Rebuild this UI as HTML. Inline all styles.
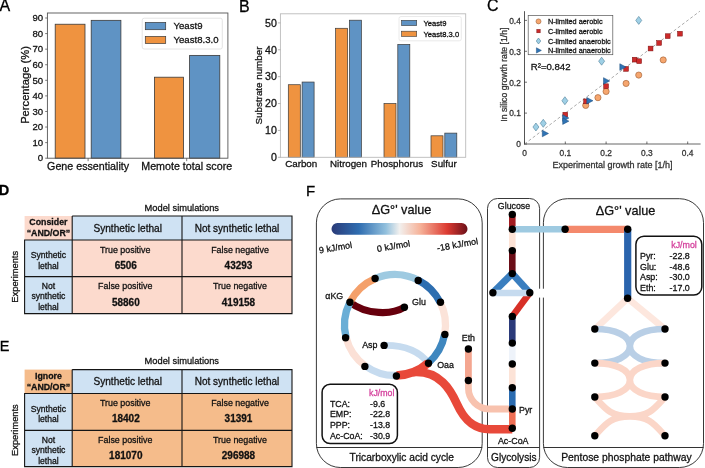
<!DOCTYPE html>
<html><head><meta charset="utf-8"><style>
html,body{margin:0;padding:0;background:#fff;width:705px;height:468px;overflow:hidden}
svg{display:block;font-family:"Liberation Sans", sans-serif;will-change:transform}
text{stroke:currentColor;stroke-width:0.28px}
</style></head><body>
<svg width="705" height="468" viewBox="0 0 705 468">
<rect width="705" height="468" fill="#fff"/>
<text x="-0.60" y="10.66" font-size="16" text-anchor="start" font-weight="normal" fill="#000" color="#000" >A</text>
<rect x="55.2" y="24.23" width="29.799999999999997" height="133.97" fill="#ef9340" stroke="#3a3a3a" stroke-width="0.8"/>
<rect x="91.2" y="20.34" width="29.700000000000003" height="137.86" fill="#5f93c4" stroke="#3a3a3a" stroke-width="0.8"/>
<rect x="154.4" y="77.20" width="29.19999999999999" height="81.00" fill="#ef9340" stroke="#3a3a3a" stroke-width="0.8"/>
<rect x="189.6" y="55.39" width="30.200000000000017" height="102.81" fill="#5f93c4" stroke="#3a3a3a" stroke-width="0.8"/>
<rect x="47.4" y="13.0" width="180.5" height="145.2" fill="none" stroke="#555" stroke-width="0.9"/>
<line x1="45.199999999999996" y1="158.20" x2="47.4" y2="158.20" stroke="#555" stroke-width="0.8"/>
<text x="43.20" y="161.46" font-size="9.6" text-anchor="end" font-weight="normal" fill="#111" color="#111" >0</text>
<line x1="45.199999999999996" y1="142.62" x2="47.4" y2="142.62" stroke="#555" stroke-width="0.8"/>
<text x="43.20" y="145.88" font-size="9.6" text-anchor="end" font-weight="normal" fill="#111" color="#111" >10</text>
<line x1="45.199999999999996" y1="127.04" x2="47.4" y2="127.04" stroke="#555" stroke-width="0.8"/>
<text x="43.20" y="130.30" font-size="9.6" text-anchor="end" font-weight="normal" fill="#111" color="#111" >20</text>
<line x1="45.199999999999996" y1="111.47" x2="47.4" y2="111.47" stroke="#555" stroke-width="0.8"/>
<text x="43.20" y="114.72" font-size="9.6" text-anchor="end" font-weight="normal" fill="#111" color="#111" >30</text>
<line x1="45.199999999999996" y1="95.89" x2="47.4" y2="95.89" stroke="#555" stroke-width="0.8"/>
<text x="43.20" y="99.14" font-size="9.6" text-anchor="end" font-weight="normal" fill="#111" color="#111" >40</text>
<line x1="45.199999999999996" y1="80.31" x2="47.4" y2="80.31" stroke="#555" stroke-width="0.8"/>
<text x="43.20" y="83.57" font-size="9.6" text-anchor="end" font-weight="normal" fill="#111" color="#111" >50</text>
<line x1="45.199999999999996" y1="64.73" x2="47.4" y2="64.73" stroke="#555" stroke-width="0.8"/>
<text x="43.20" y="67.99" font-size="9.6" text-anchor="end" font-weight="normal" fill="#111" color="#111" >60</text>
<line x1="45.199999999999996" y1="49.16" x2="47.4" y2="49.16" stroke="#555" stroke-width="0.8"/>
<text x="43.20" y="52.41" font-size="9.6" text-anchor="end" font-weight="normal" fill="#111" color="#111" >70</text>
<line x1="45.199999999999996" y1="33.58" x2="47.4" y2="33.58" stroke="#555" stroke-width="0.8"/>
<text x="43.20" y="36.83" font-size="9.6" text-anchor="end" font-weight="normal" fill="#111" color="#111" >80</text>
<line x1="45.199999999999996" y1="18.00" x2="47.4" y2="18.00" stroke="#555" stroke-width="0.8"/>
<text x="43.20" y="21.26" font-size="9.6" text-anchor="end" font-weight="normal" fill="#111" color="#111" >90</text>
<line x1="88.1" y1="158.2" x2="88.1" y2="161.2" stroke="#555" stroke-width="0.8"/>
<line x1="186.7" y1="158.2" x2="186.7" y2="161.2" stroke="#555" stroke-width="0.8"/>
<text x="88.10" y="170.05" font-size="10.7" text-anchor="middle" font-weight="normal" fill="#111" color="#111" >Gene essentiality</text>
<text x="186.70" y="170.05" font-size="10.7" text-anchor="middle" font-weight="normal" fill="#111" color="#111" >Memote total score</text>
<text x="0" y="0" font-size="11.2" text-anchor="middle" fill="#111" color="#111" transform="translate(28.8,85) rotate(-90)">Percentage (%)</text>
<rect x="142.2" y="18.2" width="80.1" height="30.8" rx="2" fill="#fff" stroke="#ddd" stroke-width="0.8"/>
<rect x="145.3" y="22.4" width="20.4" height="7.3" fill="#5f93c4" stroke="#3a3a3a" stroke-width="0.7"/>
<rect x="145.3" y="36.4" width="20.4" height="7.1" fill="#ef9340" stroke="#3a3a3a" stroke-width="0.7"/>
<text x="173.50" y="29.46" font-size="9.6" text-anchor="start" font-weight="normal" fill="#111" color="#111" >Yeast9</text>
<text x="173.50" y="43.46" font-size="9.6" text-anchor="start" font-weight="normal" fill="#111" color="#111" >Yeast8.3.0</text>
<text x="239.00" y="11.76" font-size="16" text-anchor="start" font-weight="normal" fill="#000" color="#000" >B</text>
<rect x="288.3" y="84.72" width="12" height="72.58" fill="#ef9340" stroke="#3a3a3a" stroke-width="0.7"/>
<rect x="302.1" y="82.04" width="12" height="75.26" fill="#5f93c4" stroke="#3a3a3a" stroke-width="0.7"/>
<rect x="335.6" y="28.28" width="12" height="129.02" fill="#ef9340" stroke="#3a3a3a" stroke-width="0.7"/>
<rect x="349.40000000000003" y="20.21" width="12" height="137.09" fill="#5f93c4" stroke="#3a3a3a" stroke-width="0.7"/>
<rect x="384.0" y="103.54" width="12" height="53.76" fill="#ef9340" stroke="#3a3a3a" stroke-width="0.7"/>
<rect x="397.8" y="44.40" width="12" height="112.90" fill="#5f93c4" stroke="#3a3a3a" stroke-width="0.7"/>
<rect x="431.0" y="135.80" width="12" height="21.50" fill="#ef9340" stroke="#3a3a3a" stroke-width="0.7"/>
<rect x="444.8" y="133.11" width="12" height="24.19" fill="#5f93c4" stroke="#3a3a3a" stroke-width="0.7"/>
<rect x="280.4" y="13.8" width="185.3" height="143.5" fill="none" stroke="#bbb" stroke-width="0.9"/>
<line x1="277.9" y1="157.30" x2="280.4" y2="157.30" stroke="#999" stroke-width="0.7"/>
<text x="276.80" y="161.12" font-size="10.6" text-anchor="end" font-weight="normal" fill="#111" color="#111" >0</text>
<line x1="277.9" y1="130.42" x2="280.4" y2="130.42" stroke="#999" stroke-width="0.7"/>
<text x="276.80" y="134.24" font-size="10.6" text-anchor="end" font-weight="normal" fill="#111" color="#111" >10</text>
<line x1="277.9" y1="103.54" x2="280.4" y2="103.54" stroke="#999" stroke-width="0.7"/>
<text x="276.80" y="107.36" font-size="10.6" text-anchor="end" font-weight="normal" fill="#111" color="#111" >20</text>
<line x1="277.9" y1="76.66" x2="280.4" y2="76.66" stroke="#999" stroke-width="0.7"/>
<text x="276.80" y="80.48" font-size="10.6" text-anchor="end" font-weight="normal" fill="#111" color="#111" >30</text>
<line x1="277.9" y1="49.78" x2="280.4" y2="49.78" stroke="#999" stroke-width="0.7"/>
<text x="276.80" y="53.60" font-size="10.6" text-anchor="end" font-weight="normal" fill="#111" color="#111" >40</text>
<line x1="277.9" y1="22.90" x2="280.4" y2="22.90" stroke="#999" stroke-width="0.7"/>
<text x="276.80" y="26.72" font-size="10.6" text-anchor="end" font-weight="normal" fill="#111" color="#111" >50</text>
<text x="301.20" y="167.33" font-size="9.8" text-anchor="middle" font-weight="normal" fill="#111" color="#111" >Carbon</text>
<text x="348.50" y="167.33" font-size="9.8" text-anchor="middle" font-weight="normal" fill="#111" color="#111" >Nitrogen</text>
<text x="396.90" y="167.33" font-size="9.8" text-anchor="middle" font-weight="normal" fill="#111" color="#111" >Phosphorus</text>
<text x="443.90" y="167.33" font-size="9.8" text-anchor="middle" font-weight="normal" fill="#111" color="#111" >Sulfur</text>
<text x="0" y="0" font-size="9.8" text-anchor="middle" fill="#111" color="#111" transform="translate(261.8,85.5) rotate(-90)">Substrate number</text>
<rect x="399.0" y="16.5" width="62.3" height="24.3" rx="2" fill="#fff" stroke="#e4e4e4" stroke-width="0.8"/>
<rect x="401.6" y="20.3" width="15.1" height="5.3" fill="#5f93c4" stroke="#3a3a3a" stroke-width="0.6"/>
<rect x="401.6" y="31.2" width="15.1" height="5.2" fill="#ef9340" stroke="#3a3a3a" stroke-width="0.6"/>
<text x="423.50" y="25.74" font-size="7.6" text-anchor="start" font-weight="normal" fill="#111" color="#111" >Yeast9</text>
<text x="423.50" y="36.64" font-size="7.6" text-anchor="start" font-weight="normal" fill="#111" color="#111" >Yeast8.3.0</text>
<text x="487.00" y="11.06" font-size="16" text-anchor="start" font-weight="normal" fill="#000" color="#000" >C</text>
<line x1="524.0" y1="144.0" x2="700.6" y2="144.0" stroke="#666" stroke-width="1"/>
<line x1="524.5" y1="144.5" x2="524.5" y2="11.2" stroke="#555" stroke-width="1"/>
<line x1="524.50" y1="144.0" x2="524.50" y2="141.5" stroke="#333" stroke-width="0.7"/>
<line x1="524.5" y1="144.00" x2="527.0" y2="144.00" stroke="#333" stroke-width="0.7"/>
<text x="524.50" y="155.62" font-size="8.4" text-anchor="middle" font-weight="normal" fill="#333" color="#333" >0</text>
<text x="520.80" y="147.32" font-size="8.4" text-anchor="end" font-weight="normal" fill="#333" color="#333" >0</text>
<line x1="565.30" y1="144.0" x2="565.30" y2="141.5" stroke="#333" stroke-width="0.7"/>
<line x1="524.5" y1="113.10" x2="527.0" y2="113.10" stroke="#333" stroke-width="0.7"/>
<text x="565.30" y="155.62" font-size="8.4" text-anchor="middle" font-weight="normal" fill="#333" color="#333" >0.1</text>
<text x="520.80" y="116.42" font-size="8.4" text-anchor="end" font-weight="normal" fill="#333" color="#333" >0.1</text>
<line x1="606.10" y1="144.0" x2="606.10" y2="141.5" stroke="#333" stroke-width="0.7"/>
<line x1="524.5" y1="82.20" x2="527.0" y2="82.20" stroke="#333" stroke-width="0.7"/>
<text x="606.10" y="155.62" font-size="8.4" text-anchor="middle" font-weight="normal" fill="#333" color="#333" >0.2</text>
<text x="520.80" y="85.52" font-size="8.4" text-anchor="end" font-weight="normal" fill="#333" color="#333" >0.2</text>
<line x1="646.90" y1="144.0" x2="646.90" y2="141.5" stroke="#333" stroke-width="0.7"/>
<line x1="524.5" y1="51.30" x2="527.0" y2="51.30" stroke="#333" stroke-width="0.7"/>
<text x="646.90" y="155.62" font-size="8.4" text-anchor="middle" font-weight="normal" fill="#333" color="#333" >0.3</text>
<text x="520.80" y="54.62" font-size="8.4" text-anchor="end" font-weight="normal" fill="#333" color="#333" >0.3</text>
<line x1="687.70" y1="144.0" x2="687.70" y2="141.5" stroke="#333" stroke-width="0.7"/>
<line x1="524.5" y1="20.40" x2="527.0" y2="20.40" stroke="#333" stroke-width="0.7"/>
<text x="687.70" y="155.62" font-size="8.4" text-anchor="middle" font-weight="normal" fill="#333" color="#333" >0.4</text>
<text x="520.80" y="23.72" font-size="8.4" text-anchor="end" font-weight="normal" fill="#333" color="#333" >0.4</text>
<line x1="524.5" y1="144.0" x2="699.94" y2="11.13" stroke="#888" stroke-width="0.7" stroke-dasharray="3,2.2"/>
<text x="612.50" y="168.14" font-size="9.0" text-anchor="middle" font-weight="normal" fill="#333" color="#333" >Experimental growth rate [1/h]</text>
<text x="0" y="0" font-size="8.7" text-anchor="middle" fill="#333" color="#333" transform="translate(506.8,74.6) rotate(-90)">In silico growth rate [1/h]</text>
<text x="530.80" y="70.16" font-size="9.6" text-anchor="start" font-weight="normal" fill="#111" color="#111" >R²=0.842</text>
<circle cx="585.70" cy="105.38" r="3.10" fill="#f6a66e" stroke="#9a5a30" stroke-width="0.6"/>
<circle cx="597.94" cy="97.65" r="3.10" fill="#f6a66e" stroke="#9a5a30" stroke-width="0.6"/>
<circle cx="606.10" cy="91.47" r="3.10" fill="#f6a66e" stroke="#9a5a30" stroke-width="0.6"/>
<circle cx="626.09" cy="83.44" r="3.10" fill="#f6a66e" stroke="#9a5a30" stroke-width="0.6"/>
<circle cx="638.74" cy="75.09" r="3.10" fill="#f6a66e" stroke="#9a5a30" stroke-width="0.6"/>
<circle cx="663.22" cy="59.95" r="3.10" fill="#f6a66e" stroke="#9a5a30" stroke-width="0.6"/>
<rect x="562.90" y="112.24" width="4.80" height="4.80" fill="#cc2a2a" stroke="#7a1010" stroke-width="0.5"/>
<rect x="583.71" y="98.96" width="4.80" height="4.80" fill="#cc2a2a" stroke="#7a1010" stroke-width="0.5"/>
<rect x="603.70" y="83.82" width="4.80" height="4.80" fill="#cc2a2a" stroke="#7a1010" stroke-width="0.5"/>
<rect x="623.69" y="66.51" width="4.80" height="4.80" fill="#cc2a2a" stroke="#7a1010" stroke-width="0.5"/>
<rect x="632.26" y="57.24" width="4.80" height="4.80" fill="#cc2a2a" stroke="#7a1010" stroke-width="0.5"/>
<rect x="636.75" y="58.79" width="4.80" height="4.80" fill="#cc2a2a" stroke="#7a1010" stroke-width="0.5"/>
<rect x="648.17" y="46.12" width="4.80" height="4.80" fill="#cc2a2a" stroke="#7a1010" stroke-width="0.5"/>
<rect x="656.74" y="40.56" width="4.80" height="4.80" fill="#cc2a2a" stroke="#7a1010" stroke-width="0.5"/>
<rect x="665.31" y="33.76" width="4.80" height="4.80" fill="#cc2a2a" stroke="#7a1010" stroke-width="0.5"/>
<rect x="677.55" y="31.29" width="4.80" height="4.80" fill="#cc2a2a" stroke="#7a1010" stroke-width="0.5"/>
<path d="M535.92,123.00 L538.92,127.00 L535.92,131.00 L532.92,127.00 Z" fill="#9fd0e6" stroke="#4f7f99" stroke-width="0.6"/>
<path d="M543.27,119.30 L546.27,123.30 L543.27,127.30 L540.27,123.30 Z" fill="#9fd0e6" stroke="#4f7f99" stroke-width="0.6"/>
<path d="M564.89,96.74 L567.89,100.74 L564.89,104.74 L561.89,100.74 Z" fill="#9fd0e6" stroke="#4f7f99" stroke-width="0.6"/>
<path d="M601.61,57.19 L604.61,61.19 L601.61,65.19 L598.61,61.19 Z" fill="#9fd0e6" stroke="#4f7f99" stroke-width="0.6"/>
<path d="M638.74,16.40 L641.74,20.40 L638.74,24.40 L635.74,20.40 Z" fill="#9fd0e6" stroke="#4f7f99" stroke-width="0.6"/>
<path d="M542.30,130.19 L548.50,133.49 L542.30,136.79 Z" fill="#2f74b5" stroke="#1a4a7a" stroke-width="0.5"/>
<path d="M562.70,114.74 L568.90,118.04 L562.70,121.34 Z" fill="#2f74b5" stroke="#1a4a7a" stroke-width="0.5"/>
<path d="M562.70,117.83 L568.90,121.13 L562.70,124.43 Z" fill="#2f74b5" stroke="#1a4a7a" stroke-width="0.5"/>
<path d="M586.77,97.44 L592.97,100.74 L586.77,104.04 Z" fill="#2f74b5" stroke="#1a4a7a" stroke-width="0.5"/>
<path d="M603.50,77.66 L609.70,80.96 L603.50,84.26 Z" fill="#2f74b5" stroke="#1a4a7a" stroke-width="0.5"/>
<path d="M619.82,63.76 L626.02,67.06 L619.82,70.36 Z" fill="#2f74b5" stroke="#1a4a7a" stroke-width="0.5"/>
<rect x="528.2" y="15.4" width="84.6" height="39.3" fill="#fff" stroke="#555" stroke-width="0.7"/>
<circle cx="538.50" cy="21.40" r="2.48" fill="#f6a66e" stroke="#9a5a30" stroke-width="0.6"/>
<rect x="536.82" y="29.42" width="3.36" height="3.36" fill="#cc2a2a" stroke="#7a1010" stroke-width="0.5"/>
<path d="M538.50,38.00 L540.75,41.00 L538.50,44.00 L536.25,41.00 Z" fill="#9fd0e6" stroke="#4f7f99" stroke-width="0.6"/>
<path d="M536.42,47.76 L541.38,50.40 L536.42,53.04 Z" fill="#2f74b5" stroke="#1a4a7a" stroke-width="0.5"/>
<text x="547.90" y="24.03" font-size="7.3" text-anchor="start" font-weight="normal" fill="#111" color="#111" >N-limited aerobic</text>
<text x="547.90" y="33.73" font-size="7.3" text-anchor="start" font-weight="normal" fill="#111" color="#111" >C-limited aerobic</text>
<text x="547.90" y="43.63" font-size="7.3" text-anchor="start" font-weight="normal" fill="#111" color="#111" >C-limited anaerobic</text>
<text x="547.90" y="53.03" font-size="7.3" text-anchor="start" font-weight="normal" fill="#111" color="#111" >N-limited anaerobic</text>
<text x="-1.20" y="195.22" font-size="14.5" text-anchor="start" font-weight="bold" fill="#000" color="#000" >D</text>
<text x="181.80" y="210.85" font-size="9.3" text-anchor="middle" font-weight="normal" fill="#111" color="#111" >Model simulations</text>
<rect x="24.6" y="216.0" width="47.6" height="24.0" fill="#fcdacd"/>
<rect x="72.2" y="216.0" width="219.8" height="24.0" fill="#cfe2f3"/>
<rect x="24.6" y="240.0" width="47.6" height="73.60000000000002" fill="#cfe2f3"/>
<rect x="72.2" y="240.0" width="219.8" height="73.60000000000002" fill="#fcdacd"/>
<path d="M72.2,216.0 H292.0 V313.6 H24.6 V240.0 H292.0 M24.6,276.6 H292.0 M72.2,216.0 V313.6 M182.0,216.0 V313.6" fill="none" stroke="#151515" stroke-width="1.1"/>
<text x="48.40" y="225.47" font-size="8.8" text-anchor="middle" font-weight="bold" fill="#111" color="#111" >Consider</text>
<text x="48.40" y="235.97" font-size="8.8" text-anchor="middle" font-weight="bold" fill="#111" color="#111" >“AND/OR”</text>
<text x="127.70" y="231.64" font-size="10.1" text-anchor="middle" font-weight="normal" fill="#111" color="#111" >Synthetic lethal</text>
<text x="237.00" y="231.60" font-size="10.0" text-anchor="middle" font-weight="normal" fill="#111" color="#111" >Not synthetic lethal</text>
<text x="48.40" y="258.40" font-size="8.6" text-anchor="middle" font-weight="normal" fill="#111" color="#111" >Synthetic</text>
<text x="48.40" y="268.50" font-size="8.6" text-anchor="middle" font-weight="normal" fill="#111" color="#111" >lethal</text>
<text x="48.40" y="289.20" font-size="8.6" text-anchor="middle" font-weight="normal" fill="#111" color="#111" >Not</text>
<text x="48.40" y="299.40" font-size="8.6" text-anchor="middle" font-weight="normal" fill="#111" color="#111" >synthetic</text>
<text x="48.40" y="309.70" font-size="8.6" text-anchor="middle" font-weight="normal" fill="#111" color="#111" >lethal</text>
<text x="125.20" y="252.50" font-size="8.9" text-anchor="middle" font-weight="normal" fill="#111" color="#111" >True positive</text>
<text x="125.80" y="269.40" font-size="10.0" text-anchor="middle" font-weight="bold" fill="#111" color="#111" >6506</text>
<text x="240.00" y="252.50" font-size="8.9" text-anchor="middle" font-weight="normal" fill="#111" color="#111" >False negative</text>
<text x="238.50" y="269.40" font-size="10.0" text-anchor="middle" font-weight="bold" fill="#111" color="#111" >43293</text>
<text x="125.20" y="289.10" font-size="8.9" text-anchor="middle" font-weight="normal" fill="#111" color="#111" >False positive</text>
<text x="125.80" y="306.00" font-size="10.0" text-anchor="middle" font-weight="bold" fill="#111" color="#111" >58860</text>
<text x="240.00" y="289.10" font-size="8.9" text-anchor="middle" font-weight="normal" fill="#111" color="#111" >True negative</text>
<text x="238.50" y="306.00" font-size="10.0" text-anchor="middle" font-weight="bold" fill="#111" color="#111" >419158</text>
<text x="0" y="0" font-size="9.3" text-anchor="middle" fill="#111" color="#111" transform="translate(18.2,276.8) rotate(-90)">Experiments</text>
<text x="-0.30" y="350.72" font-size="14.5" text-anchor="start" font-weight="normal" fill="#000" color="#000" >E</text>
<text x="181.80" y="364.45" font-size="9.3" text-anchor="middle" font-weight="normal" fill="#111" color="#111" >Model simulations</text>
<rect x="24.6" y="369.6" width="47.6" height="23.899999999999977" fill="#f5bc8b"/>
<rect x="72.2" y="369.6" width="219.8" height="23.899999999999977" fill="#cfe2f3"/>
<rect x="24.6" y="393.5" width="47.6" height="73.10000000000002" fill="#cfe2f3"/>
<rect x="72.2" y="393.5" width="219.8" height="73.10000000000002" fill="#f5bc8b"/>
<path d="M72.2,369.6 H292.0 V466.6 H24.6 V393.5 H292.0 M24.6,430.4 H292.0 M72.2,369.6 V466.6 M182.0,369.6 V466.6" fill="none" stroke="#151515" stroke-width="1.1"/>
<text x="48.40" y="379.07" font-size="8.8" text-anchor="middle" font-weight="bold" fill="#111" color="#111" >Ignore</text>
<text x="48.40" y="389.57" font-size="8.8" text-anchor="middle" font-weight="bold" fill="#111" color="#111" >“AND/OR”</text>
<text x="127.70" y="385.19" font-size="10.1" text-anchor="middle" font-weight="normal" fill="#111" color="#111" >Synthetic lethal</text>
<text x="237.00" y="385.15" font-size="10.0" text-anchor="middle" font-weight="normal" fill="#111" color="#111" >Not synthetic lethal</text>
<text x="48.40" y="411.90" font-size="8.6" text-anchor="middle" font-weight="normal" fill="#111" color="#111" >Synthetic</text>
<text x="48.40" y="422.00" font-size="8.6" text-anchor="middle" font-weight="normal" fill="#111" color="#111" >lethal</text>
<text x="48.40" y="443.00" font-size="8.6" text-anchor="middle" font-weight="normal" fill="#111" color="#111" >Not</text>
<text x="48.40" y="453.20" font-size="8.6" text-anchor="middle" font-weight="normal" fill="#111" color="#111" >synthetic</text>
<text x="48.40" y="463.50" font-size="8.6" text-anchor="middle" font-weight="normal" fill="#111" color="#111" >lethal</text>
<text x="125.20" y="405.70" font-size="8.9" text-anchor="middle" font-weight="normal" fill="#111" color="#111" >True positive</text>
<text x="125.80" y="421.90" font-size="10.0" text-anchor="middle" font-weight="bold" fill="#111" color="#111" >18402</text>
<text x="240.00" y="405.70" font-size="8.9" text-anchor="middle" font-weight="normal" fill="#111" color="#111" >False negative</text>
<text x="238.50" y="421.90" font-size="10.0" text-anchor="middle" font-weight="bold" fill="#111" color="#111" >31391</text>
<text x="125.20" y="442.60" font-size="8.9" text-anchor="middle" font-weight="normal" fill="#111" color="#111" >False positive</text>
<text x="125.80" y="458.80" font-size="10.0" text-anchor="middle" font-weight="bold" fill="#111" color="#111" >181070</text>
<text x="240.00" y="442.60" font-size="8.9" text-anchor="middle" font-weight="normal" fill="#111" color="#111" >True negative</text>
<text x="238.50" y="458.80" font-size="10.0" text-anchor="middle" font-weight="bold" fill="#111" color="#111" >296988</text>
<text x="0" y="0" font-size="9.3" text-anchor="middle" fill="#111" color="#111" transform="translate(18.2,430.1) rotate(-90)">Experiments</text>
<text x="306.00" y="195.70" font-size="15.0" text-anchor="start" font-weight="normal" fill="#000" color="#000" >F</text>
<path d="M340.4,198.9 H458.2 A24,24 0 0 1 482.2,222.9 V443.5 A24,24 0 0 1 458.2,467.5 H340.4 A24,24 0 0 1 316.4,443.5 V222.9 A24,24 0 0 1 340.4,198.9 Z" fill="none" stroke="#222" stroke-width="0.9"/>
<line x1="316.4" y1="447.5" x2="482.2" y2="447.5" stroke="#333" stroke-width="1"/>
<path d="M497.5,198.5 H529.6 A10,10 0 0 1 539.6,208.5 V457.5 A10,10 0 0 1 529.6,467.5 H497.5 A10,10 0 0 1 487.5,457.5 V208.5 A10,10 0 0 1 497.5,198.5 Z" fill="none" stroke="#222" stroke-width="0.9"/>
<line x1="487.5" y1="447.5" x2="539.6" y2="447.5" stroke="#333" stroke-width="1"/>
<path d="M567.4,198.7 H679.5 A24,24 0 0 1 703.5,222.7 V443.5 A24,24 0 0 1 679.5,467.5 H567.4 A24,24 0 0 1 543.4,443.5 V222.7 A24,24 0 0 1 567.4,198.7 Z" fill="none" stroke="#222" stroke-width="0.9"/>
<line x1="543.4" y1="447.5" x2="703.5" y2="447.5" stroke="#333" stroke-width="1"/>
<rect x="537" y="288.7" width="9" height="8.9" fill="#fff"/>
<text x="401.60" y="214.37" font-size="12.7" text-anchor="middle" font-weight="normal" fill="#111" color="#111" >ΔG°' value</text>
<text x="625.60" y="214.57" font-size="12.7" text-anchor="middle" font-weight="normal" fill="#111" color="#111" >ΔG°' value</text>
<text x="401.80" y="460.97" font-size="10.2" text-anchor="middle" font-weight="normal" fill="#111" color="#111" >Tricarboxylic acid cycle</text>
<text x="513.80" y="461.24" font-size="10.1" text-anchor="middle" font-weight="normal" fill="#111" color="#111" >Glycolysis</text>
<text x="626.40" y="461.13" font-size="10.35" text-anchor="middle" font-weight="normal" fill="#111" color="#111" >Pentose phosphate pathway</text>
<text x="514.00" y="208.67" font-size="8.8" text-anchor="middle" font-weight="normal" fill="#111" color="#111" >Glucose</text>
<defs><linearGradient id="cb" x1="0" x2="1" y1="0" y2="0"><stop offset="0" stop-color="#2a3a78"/><stop offset="0.2" stop-color="#2f6db0"/><stop offset="0.4" stop-color="#92c0dd"/><stop offset="0.5" stop-color="#f2f0ee"/><stop offset="0.65" stop-color="#f6b39a"/><stop offset="0.85" stop-color="#dc3b32"/><stop offset="1" stop-color="#6b1019"/></linearGradient></defs>
<rect x="331.5" y="223.0" width="136.0" height="11.8" rx="5.9" fill="url(#cb)"/>
<text x="0" y="0" font-size="9.0" text-anchor="middle" fill="#111" color="#111" transform="translate(336,250.7) rotate(-10)">9 kJ/mol</text>
<text x="0" y="0" font-size="9.0" text-anchor="middle" fill="#111" color="#111" transform="translate(394,249.2) rotate(-10)">0 kJ/mol</text>
<text x="0" y="0" font-size="9.0" text-anchor="middle" fill="#111" color="#111" transform="translate(458,247.7) rotate(-10)">-18 kJ/mol</text>
<path d="M384.1,345.4 C405,345 420,352 428.5,363.3" fill="none" stroke="#c6dbef" stroke-width="6.8" stroke-linecap="butt"/>
<path d="M350,302.3 C366,315 392,315 404.4,307.3" fill="none" stroke="#67000d" stroke-width="7.2" stroke-linecap="butt"/>
<path d="M349.91,302.26 A50.5,50.5 0 0 1 375.13,278.57" fill="none" stroke="#f4a06a" stroke-width="7.3" stroke-linecap="butt"/>
<path d="M375.13,278.57 A50.5,50.5 0 0 1 418.35,280.22" fill="none" stroke="#9ecae1" stroke-width="7.3" stroke-linecap="butt"/>
<path d="M418.35,280.22 A50.5,50.5 0 0 1 440.19,302.46" fill="none" stroke="#2d6eb0" stroke-width="7.3" stroke-linecap="butt"/>
<path d="M440.19,302.46 A50.5,50.5 0 0 1 444.63,334.35" fill="none" stroke="#fbe3d9" stroke-width="7.3" stroke-linecap="butt"/>
<path d="M444.63,334.35 A50.5,50.5 0 0 1 428.25,363.01" fill="none" stroke="#3f87bf" stroke-width="7.3" stroke-linecap="butt"/>
<path d="M428.25,363.01 A50.5,50.5 0 0 1 396.39,375.48" fill="none" stroke="#e8493a" stroke-width="8.4" stroke-linecap="butt"/>
<path d="M396.39,375.48 A50.5,50.5 0 0 1 365.30,365.85" fill="none" stroke="#c6dbef" stroke-width="7.3" stroke-linecap="butt"/>
<path d="M365.30,365.85 A50.5,50.5 0 0 1 346.09,337.57" fill="none" stroke="#fbe0d6" stroke-width="7.3" stroke-linecap="butt"/>
<path d="M346.09,337.57 A50.5,50.5 0 0 1 349.91,302.26" fill="none" stroke="#6aaed6" stroke-width="7.3" stroke-linecap="butt"/>
<path d="M413,372.2 C440,370.2 451,390.7 457,404 C463,417.3 472,429.3 490,429.3 H512.3" fill="none" stroke="#e8493a" stroke-width="8.4" stroke-linecap="butt"/>
<path d="M468.4,380.5 V388 C468.4,399.6 477.8,409 489.4,409 H512.3" fill="none" stroke="#f8c2ae" stroke-width="6.8" stroke-linecap="butt"/>
<path d="M468.4,349 V381" fill="none" stroke="#f4a690" stroke-width="6.8" stroke-linecap="butt"/>
<path d="M512.3,214.4 V229.2" fill="none" stroke="#a11d22" stroke-width="6.6" stroke-linecap="butt"/>
<path d="M512.3,229.2 V250.6" fill="none" stroke="#fde3d6" stroke-width="6.6" stroke-linecap="butt"/>
<path d="M512.3,250.6 V273.6" fill="none" stroke="#6b0d17" stroke-width="6.6" stroke-linecap="butt"/>
<path d="M529.8,292.8 L512.3,316.4" fill="none" stroke="#d73027" stroke-width="6.6" stroke-linecap="butt"/>
<path d="M512.3,273.6 L492.9,292.8" fill="none" stroke="#3a7ebf" stroke-width="7.0" stroke-linecap="butt"/>
<path d="M512.3,273.6 L529.8,292.8" fill="none" stroke="#3a7ebf" stroke-width="7.0" stroke-linecap="butt"/>
<path d="M492.9,293.0 H529.8" fill="none" stroke="#c6dbef" stroke-width="6.6" stroke-linecap="butt"/>
<path d="M512.3,316.4 V343.1" fill="none" stroke="#2b3a7a" stroke-width="6.6" stroke-linecap="butt"/>
<path d="M512.3,343.1 V364.0" fill="none" stroke="#eef3fa" stroke-width="6.6" stroke-linecap="butt"/>
<path d="M512.3,364.0 V387.7" fill="none" stroke="#fce3d7" stroke-width="6.6" stroke-linecap="butt"/>
<path d="M512.3,387.7 V409.0" fill="none" stroke="#2a6bb0" stroke-width="6.6" stroke-linecap="butt"/>
<path d="M512.3,409.0 V428.2" fill="none" stroke="#ef6f55" stroke-width="6.6" stroke-linecap="butt"/>
<path d="M512.3,229.2 H565.1" fill="none" stroke="#9ecae1" stroke-width="6.6" stroke-linecap="butt"/>
<path d="M565.1,229.3 H627.7" fill="none" stroke="#f4896c" stroke-width="7.2" stroke-linecap="butt"/>
<path d="M627.7,229.3 V298.3" fill="none" stroke="#2a64ad" stroke-width="7.2" stroke-linecap="butt"/>
<path d="M627.6,298.3 L594.9,329.1 M627.6,298.3 L665.0,329.1" fill="none" stroke="#fde7de" stroke-width="6.6" stroke-linecap="butt"/>
<path d="M594.8,329.0 C615.86,329.0 629.9,335.82 629.9,346.05 C629.9,356.28 643.94,363.1 665.0,363.1 M665.0,329.0 C643.94,329.0 629.9,335.82 629.9,346.05 C629.9,356.28 615.86,363.1 594.8,363.1" fill="none" stroke="#b9cfe6" stroke-width="6.6" stroke-linecap="butt"/>
<path d="M594.8,363.1 C615.86,363.1 629.9,369.88 629.9,380.05 C629.9,390.22 643.94,397.0 665.0,397.0 M665.0,363.1 C643.94,363.1 629.9,369.88 629.9,380.05 C629.9,390.22 615.86,397.0 594.8,397.0" fill="none" stroke="#fbd6c8" stroke-width="6.6" stroke-linecap="butt"/>
<path d="M594.8,397.0 C605.33,408.64 610.59,416.4 629.9,416.4 C649.21,416.4 654.47,424.16 665.0,435.8 M665.0,397.0 C654.47,408.64 649.21,416.4 629.9,416.4 C610.59,416.4 605.33,424.16 594.8,435.8" fill="none" stroke="#fbd6c8" stroke-width="6.6" stroke-linecap="butt"/>
<circle cx="350.00" cy="302.30" r="3.7" fill="#000"/>
<circle cx="375.10" cy="278.50" r="3.7" fill="#000"/>
<circle cx="418.20" cy="280.50" r="3.7" fill="#000"/>
<circle cx="440.50" cy="302.30" r="3.7" fill="#000"/>
<circle cx="444.90" cy="334.40" r="3.7" fill="#000"/>
<circle cx="428.50" cy="363.30" r="3.7" fill="#000"/>
<circle cx="396.40" cy="376.00" r="3.7" fill="#000"/>
<circle cx="364.90" cy="366.40" r="3.7" fill="#000"/>
<circle cx="345.60" cy="337.70" r="3.7" fill="#000"/>
<circle cx="404.40" cy="307.30" r="3.7" fill="#000"/>
<circle cx="384.10" cy="345.40" r="3.7" fill="#000"/>
<circle cx="468.40" cy="349.00" r="3.7" fill="#000"/>
<circle cx="468.40" cy="380.50" r="3.7" fill="#000"/>
<circle cx="512.30" cy="214.40" r="3.7" fill="#000"/>
<circle cx="512.30" cy="229.20" r="3.7" fill="#000"/>
<circle cx="512.30" cy="250.60" r="3.7" fill="#000"/>
<circle cx="512.30" cy="273.60" r="3.7" fill="#000"/>
<circle cx="512.30" cy="316.40" r="3.7" fill="#000"/>
<circle cx="512.30" cy="343.10" r="3.7" fill="#000"/>
<circle cx="512.30" cy="364.00" r="3.7" fill="#000"/>
<circle cx="512.30" cy="387.70" r="3.7" fill="#000"/>
<circle cx="512.30" cy="409.00" r="3.7" fill="#000"/>
<circle cx="512.30" cy="428.20" r="3.7" fill="#000"/>
<circle cx="492.90" cy="292.80" r="3.7" fill="#000"/>
<circle cx="529.80" cy="292.80" r="3.7" fill="#000"/>
<circle cx="565.10" cy="229.20" r="3.7" fill="#000"/>
<circle cx="627.70" cy="229.20" r="3.7" fill="#000"/>
<circle cx="627.60" cy="298.30" r="3.7" fill="#000"/>
<circle cx="594.80" cy="329.00" r="3.7" fill="#000"/>
<circle cx="665.00" cy="329.00" r="3.7" fill="#000"/>
<circle cx="594.80" cy="363.10" r="3.7" fill="#000"/>
<circle cx="665.00" cy="363.10" r="3.7" fill="#000"/>
<circle cx="594.80" cy="397.00" r="3.7" fill="#000"/>
<circle cx="665.00" cy="397.00" r="3.7" fill="#000"/>
<circle cx="594.80" cy="435.80" r="3.7" fill="#000"/>
<circle cx="665.00" cy="435.80" r="3.7" fill="#000"/>
<text x="325.30" y="299.30" font-size="8.9" text-anchor="start" font-weight="normal" fill="#111" color="#111" >αKG</text>
<text x="412.00" y="304.80" font-size="8.9" text-anchor="start" font-weight="normal" fill="#111" color="#111" >Glu</text>
<text x="362.20" y="348.20" font-size="8.9" text-anchor="start" font-weight="normal" fill="#111" color="#111" >Asp</text>
<text x="437.20" y="368.37" font-size="8.8" text-anchor="start" font-weight="normal" fill="#111" color="#111" >Oaa</text>
<text x="468.40" y="340.80" font-size="8.9" text-anchor="middle" font-weight="normal" fill="#111" color="#111" >Eth</text>
<text x="519.00" y="412.90" font-size="8.9" text-anchor="start" font-weight="normal" fill="#111" color="#111" >Pyr</text>
<text x="513.20" y="444.20" font-size="8.9" text-anchor="middle" font-weight="normal" fill="#111" color="#111" >Ac-CoA</text>
<rect x="322.1" y="384.3" width="75.3" height="59.2" rx="8" fill="#fff" stroke="#111" stroke-width="1.5"/>
<text x="369.00" y="395.57" font-size="8.8" text-anchor="start" font-weight="normal" fill="#d4409c" color="#d4409c" >kJ/mol</text>
<text x="330.00" y="407.17" font-size="8.8" text-anchor="start" font-weight="normal" fill="#111" color="#111" >TCA:</text>
<text x="370.10" y="407.17" font-size="8.8" text-anchor="start" font-weight="normal" fill="#111" color="#111" >-9.6</text>
<text x="330.00" y="417.37" font-size="8.8" text-anchor="start" font-weight="normal" fill="#111" color="#111" >EMP:</text>
<text x="370.10" y="417.37" font-size="8.8" text-anchor="start" font-weight="normal" fill="#111" color="#111" >-22.8</text>
<text x="330.00" y="427.77" font-size="8.8" text-anchor="start" font-weight="normal" fill="#111" color="#111" >PPP:</text>
<text x="370.10" y="427.77" font-size="8.8" text-anchor="start" font-weight="normal" fill="#111" color="#111" >-13.8</text>
<text x="330.00" y="438.57" font-size="8.8" text-anchor="start" font-weight="normal" fill="#111" color="#111" >Ac-CoA:</text>
<text x="370.10" y="438.57" font-size="8.8" text-anchor="start" font-weight="normal" fill="#111" color="#111" >-30.9</text>
<rect x="635.9" y="236.2" width="65.9" height="58.9" rx="8" fill="#fff" stroke="#111" stroke-width="1.5"/>
<text x="671.20" y="247.50" font-size="8.9" text-anchor="start" font-weight="normal" fill="#d4409c" color="#d4409c" >kJ/mol</text>
<text x="640.00" y="259.10" font-size="8.9" text-anchor="start" font-weight="normal" fill="#111" color="#111" >Pyr:</text>
<text x="689.80" y="259.10" font-size="8.9" text-anchor="end" font-weight="normal" fill="#111" color="#111" >-22.8</text>
<text x="640.00" y="270.10" font-size="8.9" text-anchor="start" font-weight="normal" fill="#111" color="#111" >Glu:</text>
<text x="689.80" y="270.10" font-size="8.9" text-anchor="end" font-weight="normal" fill="#111" color="#111" >-48.6</text>
<text x="640.00" y="280.30" font-size="8.9" text-anchor="start" font-weight="normal" fill="#111" color="#111" >Asp:</text>
<text x="689.80" y="280.30" font-size="8.9" text-anchor="end" font-weight="normal" fill="#111" color="#111" >-30.0</text>
<text x="640.00" y="290.60" font-size="8.9" text-anchor="start" font-weight="normal" fill="#111" color="#111" >Eth:</text>
<text x="689.80" y="290.60" font-size="8.9" text-anchor="end" font-weight="normal" fill="#111" color="#111" >-17.0</text>
</svg>
</body></html>
